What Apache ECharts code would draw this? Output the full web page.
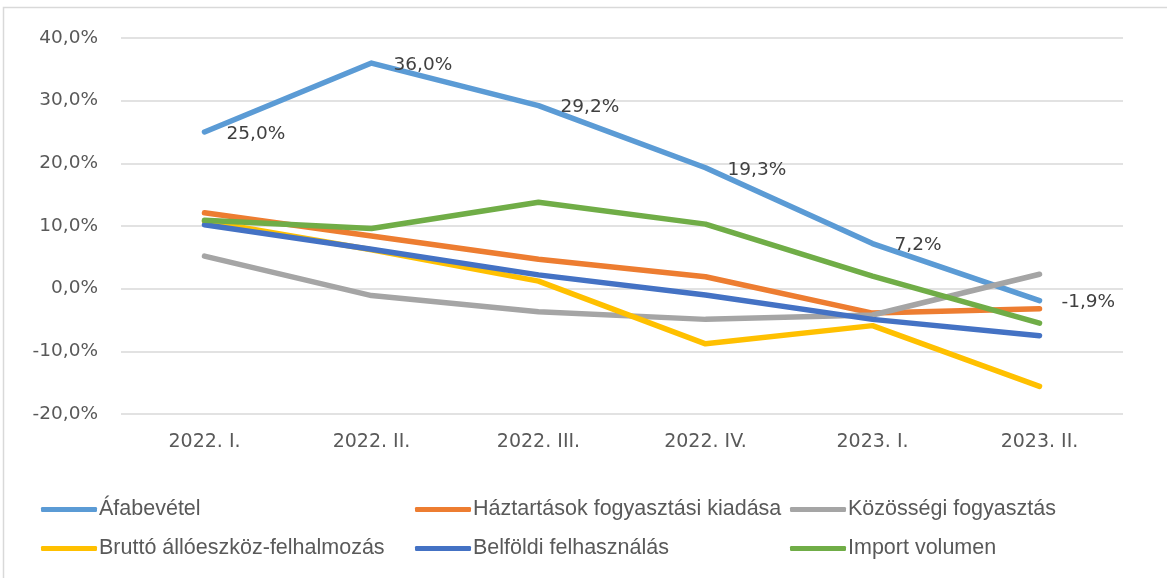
<!DOCTYPE html>
<html>
<head>
<meta charset="utf-8">
<script src="https://cdn.jsdelivr.net/npm/echarts@6/dist/echarts.min.js"></script>
<style>html,body{margin:0;padding:0;background:#fff}#c{width:1167px;height:578px}</style>
</head>
<body>
<div id="c"></div>
<script>
const categories = ['2022. I.', '2022. II.', '2022. III.', '2022. IV.', '2023. I.', '2023. II.'];
const seriesNames = ['Áfabevétel', 'Háztartások fogyasztási kiadása', 'Közösségi fogyasztás', 'Bruttó állóeszköz-felhalmozás', 'Belföldi felhasználás', 'Import volumen'];
const afabevetel = [25.0, 36.0, 29.2, 19.3, 7.2, -1.9];
const haztartasok = [12.1, 8.4, 4.7, 1.9, -3.9, -3.2];
const kozossegi = [5.2, -1.1, -3.7, -4.9, -4.2, 2.3];
const brutto = [10.8, 6.2, 1.2, -8.8, -5.9, -15.6];
const belfoldi = [10.2, 6.3, 2.2, -1.0, -4.9, -7.5];
const importVol = [10.9, 9.6, 13.8, 10.3, 2.0, -5.5];
const yTicks = {min: -20, max: 40, interval: 10};

const colors = ['#5B9BD5', '#ED7D31', '#A5A5A5', '#FFC000', '#4472C4', '#70AD47'];
const dataArr = [afabevetel, haztartasok, kozossegi, brutto, belfoldi, importVol];
const font = 'DejaVu Sans';
const legendFont = 'Liberation Sans';
const fmt = v => v.toFixed(1).replace('.', ',') + '%';

const series = seriesNames.map((n, i) => ({
  name: n,
  type: 'line',
  data: dataArr[i],
  symbol: 'circle',
  symbolSize: 0.01,
  showSymbol: true,
  smooth: false,
  lineStyle: {width: 5.5, color: colors[i], cap: 'round', join: 'round'},
  itemStyle: {color: colors[i]},
  label: i === 0 ? {
    show: true, position: 'right', distance: 22, offset: [0, 2],
    formatter: p => fmt(p.value), color: '#404040', fontSize: 18.5, fontFamily: font
  } : {show: false},
  emphasis: {disabled: true},
  z: 2 + i
}));

function legend(left, names) {
  return {
    orient: 'vertical', left: left, top: 497, padding: 0,
    data: names, icon: 'roundRect', itemWidth: 56, itemHeight: 5,
    itemGap: 14,
    textStyle: {color: '#595959', fontSize: 21.5, fontFamily: legendFont, lineHeight: 25, padding: [0, 0, 0, -3]},
    selectedMode: false
  };
}

const chart = echarts.init(document.getElementById('c'), null, {renderer: 'canvas'});
chart.setOption({
  animation: false,
  backgroundColor: '#fff',
  color: colors,
  graphic: [{type: 'rect', shape: {x: 3.5, y: 7.5, width: 1200, height: 600}, style: {fill: 'none', stroke: '#d9d9d9', lineWidth: 1.5}, silent: true}],
  grid: {left: 121, right: 44, top: 38, bottom: 164},
  xAxis: {
    type: 'category', data: categories, boundaryGap: true,
    axisLine: {show: false}, axisTick: {show: false},
    axisLabel: {color: '#595959', fontSize: 19, fontFamily: font, margin: 19}
  },
  yAxis: {
    type: 'value', min: yTicks.min, max: yTicks.max, interval: yTicks.interval,
    axisLine: {show: false}, axisTick: {show: false},
    axisLabel: {color: '#595959', fontSize: 18.5, fontFamily: font, margin: 23, formatter: v => fmt(v)},
    splitLine: {lineStyle: {color: '#d9d9d9', width: 1.5}}
  },
  legend: [
    legend(41, [seriesNames[0], seriesNames[3]]),
    legend(415, [seriesNames[1], seriesNames[4]]),
    legend(790, [seriesNames[2], seriesNames[5]])
  ],
  series: series
});
</script>
</body>
</html>
